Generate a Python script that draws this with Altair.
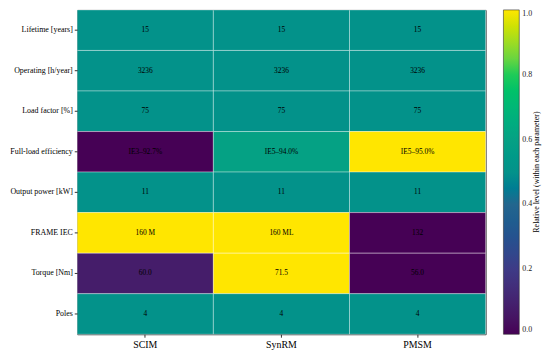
import altair as alt
import pandas as pd

motors = ["SCIM", "SynRM", "PMSM"]
params = [
    "Lifetime [years]",
    "Operating [h/year]",
    "Load factor [%]",
    "Full-load efficiency",
    "Output power [kW]",
    "FRAME IEC",
    "Torque [Nm]",
    "Poles",
]
cell_text = [
    ["15", "15", "15"],
    ["3236", "3236", "3236"],
    ["75", "75", "75"],
    ["IE3–92.7%", "IE5–94.0%", "IE5–95.0%"],
    ["11", "11", "11"],
    ["160 M", "160 ML", "132"],
    ["60.0", "71.5", "56.0"],
    ["4", "4", "4"],
]
levels = [
    [0.5, 0.5, 0.5],
    [0.5, 0.5, 0.5],
    [0.5, 0.5, 0.5],
    [0.0, 0.6, 1.0],
    [0.5, 0.5, 0.5],
    [1.0, 1.0, 0.0],
    [0.08, 1.0, 0.0],
    [0.5, 0.5, 0.5],
]
cbar_stops = [0.0, 0.2, 0.4, 0.5, 0.6, 0.8, 0.9, 1.0]
cbar_colors = ["#460155", "#3e3a86", "#23668e", "#03928a", "#05a184", "#1ecb58", "#9edc22", "#ffe600"]
cbar_title = "Relative level (within each parameter)"

rows = []
for i, p in enumerate(params):
    for j, m in enumerate(motors):
        rows.append({"param": p, "motor": m, "label": cell_text[i][j], "level": levels[i][j]})
df = pd.DataFrame(rows)

FONT = "Liberation Serif"
W, H = 413, 328

x_enc = alt.X("motor:N", sort=motors, title=None,
              scale=alt.Scale(paddingInner=0, paddingOuter=0),
              axis=alt.Axis(labelAngle=0, labelFontSize=10, labelFont=FONT, labelColor="black",
                            tickSize=3, tickColor="#333", domain=False, grid=False, labelPadding=2))
y_enc = alt.Y("param:N", sort=params, title=None,
              scale=alt.Scale(paddingInner=0, paddingOuter=0),
              axis=alt.Axis(labelFontSize=8, labelFont=FONT, labelColor="black",
                            tickSize=3, tickColor="#333", domain=False, grid=False, labelPadding=2))

heat = alt.Chart(df).mark_rect(stroke="white", strokeOpacity=0.35, strokeWidth=1).encode(
    x=x_enc,
    y=y_enc,
    color=alt.Color(
        "level:Q",
        scale=alt.Scale(domain=cbar_stops, range=cbar_colors, type="linear"),
        legend=alt.Legend(
            title=None,
            orient="none",
            legendX=431,
            legendY=0,
            direction="vertical",
            gradientLength=H,
            gradientThickness=16,
            gradientStrokeColor="#333",
            gradientStrokeWidth=0.6,
            values=[0.0, 0.2, 0.4, 0.6, 0.8, 1.0],
            format=".1f",
            labelFont=FONT,
            labelFontSize=8,
            labelColor="#222",
            labelOffset=3,
        ),
    ),
)

txt = alt.Chart(df).mark_text(font=FONT, fontSize=7.5, color="black").encode(
    x=alt.X("motor:N", sort=motors),
    y=alt.Y("param:N", sort=params),
    text="label:N",
)

title_txt = alt.Chart(pd.DataFrame({"t": [cbar_title]})).mark_text(
    font=FONT, fontSize=8, color="black", angle=270, align="center", baseline="middle"
).encode(
    x=alt.value(465),
    y=alt.value(H / 2),
    text="t:N",
)

chart = (
    alt.layer(heat, txt, title_txt)
    .properties(
        width=W,
        height=H,
        autosize=alt.AutoSizeParams(type="none"),
        padding={"left": 70, "top": 0, "right": 57, "bottom": 14},
    )
    .configure_view(stroke="#333", strokeWidth=1)
)

chart.save("out.html", embed_options={"renderer": "svg", "actions": False})
